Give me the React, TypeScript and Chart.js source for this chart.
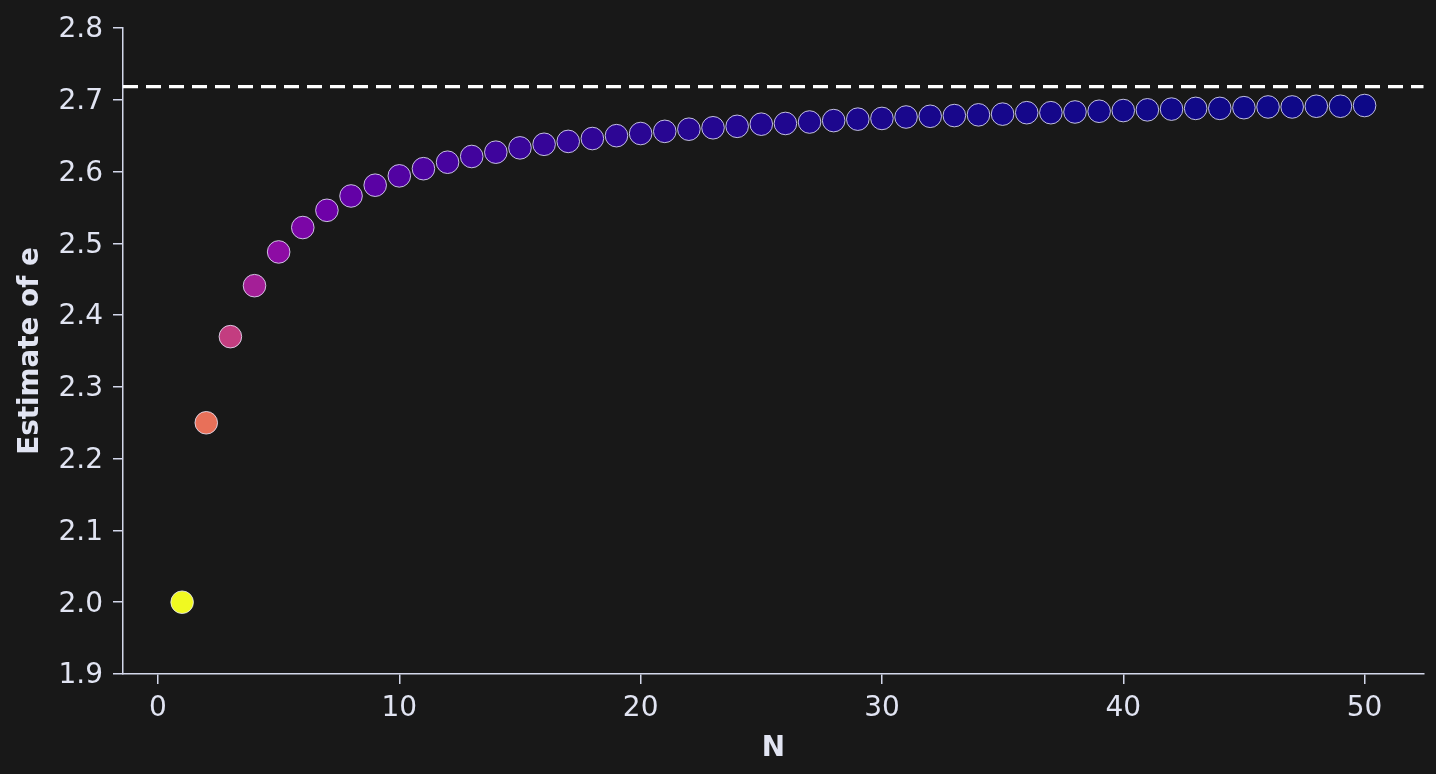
import React, { useEffect, useRef } from "react";
import { Chart, registerables } from "chart.js";

Chart.register(...registerables);

// ---- data ----
const N_VALUES = [
  1, 2, 3, 4, 5, 6, 7, 8, 9, 10, 11, 12, 13, 14, 15, 16, 17, 18, 19, 20, 21, 22, 23, 24, 25,
  26, 27, 28, 29, 30, 31, 32, 33, 34, 35, 36, 37, 38, 39, 40, 41, 42, 43, 44, 45, 46, 47, 48, 49, 50,
];
const ESTIMATES = [
  2.0, 2.25, 2.37, 2.441, 2.488, 2.522, 2.546, 2.566, 2.581, 2.594,
  2.604, 2.613, 2.621, 2.627, 2.633, 2.638, 2.642, 2.646, 2.65, 2.653,
  2.656, 2.659, 2.661, 2.663, 2.666, 2.667, 2.669, 2.671, 2.673, 2.674,
  2.676, 2.677, 2.678, 2.679, 2.68, 2.682, 2.682, 2.683, 2.684, 2.685,
  2.686, 2.687, 2.688, 2.688, 2.689, 2.69, 2.69, 2.691, 2.691, 2.692,
];
const E_REFERENCE = 2.71828;
const Y_TICKS = [1.9, 2.0, 2.1, 2.2, 2.3, 2.4, 2.5, 2.6, 2.7, 2.8];
const X_TICKS = [0, 10, 20, 30, 40, 50];
const X_LABEL = "N";
const Y_LABEL = "Estimate of e";

// ---- style ----
const BG = "#181818";
const TEXT = "#e1e4f2";
const AXIS = "#d3d7ea";
const FONT = "'DejaVu Sans', sans-serif";
const PLASMA = [
  "#0d0887", "#41049d", "#6a00a8", "#8f0da4", "#b12a90", "#cc4778",
  "#e16462", "#f2844b", "#fca636", "#fcce25", "#f0f921",
];

function hexToRgb(h: string) {
  return [1, 3, 5].map((i) => parseInt(h.slice(i, i + 2), 16));
}
function plasma(t: number) {
  const c = Math.max(0, Math.min(1, t)) * (PLASMA.length - 1);
  const i = Math.min(PLASMA.length - 2, Math.floor(c));
  const f = c - i;
  const a = hexToRgb(PLASMA[i]);
  const b = hexToRgb(PLASMA[i + 1]);
  const m = a.map((v, k) => Math.round(v + (b[k] - v) * f));
  return `rgb(${m[0]},${m[1]},${m[2]})`;
}

export default function App() {
  const ref = useRef<HTMLCanvasElement | null>(null);
  useEffect(() => {
    if (!ref.current) return;
    const errors = ESTIMATES.map((v) => E_REFERENCE - v);
    const eMin = Math.min(...errors);
    const eMax = Math.max(...errors);
    const colors = errors.map((e) => plasma((e - eMin) / (eMax - eMin)));
    const xMin = -1.45;
    const xMax = 52.45;
    const chart = new Chart(ref.current, {
      type: "scatter",
      data: {
        datasets: [
          {
            type: "line",
            data: [
              { x: xMin, y: E_REFERENCE },
              { x: xMax, y: E_REFERENCE },
            ],
            borderColor: "#ffffff",
            borderWidth: 3.2,
            borderDash: [15, 8],
            pointRadius: 0,
            fill: false,
          } as any,
          {
            data: N_VALUES.map((n, i) => ({ x: n, y: ESTIMATES[i] })),
            backgroundColor: colors,
            borderColor: "rgba(235,235,255,0.8)",
            borderWidth: 1,
            pointRadius: 11.3,
          },
        ],
      },
      options: {
        animation: false,
        responsive: false,
        layout: { padding: { top: 28, right: 11, left: 0, bottom: 0 } },
        plugins: { legend: { display: false }, tooltip: { enabled: false } },
        scales: {
          x: {
            type: "linear",
            min: xMin,
            max: xMax,
            afterBuildTicks: (s: any) => {
              s.ticks = X_TICKS.map((v) => ({ value: v }));
            },
            afterFit: (s: any) => {
              s.height = 100;
            },
            ticks: {
              color: TEXT,
              font: { family: FONT, size: 28 },
              padding: 8,
              maxRotation: 0,
              autoSkip: false,
              callback: (v: any) => String(v),
            },
            grid: { display: true, drawOnChartArea: false, drawTicks: true, tickLength: 10, color: AXIS, lineWidth: 1.5 },
            border: { display: true, color: AXIS, width: 1.5 },
            title: {
              display: true,
              text: X_LABEL,
              color: TEXT,
              font: { family: FONT, size: 27.8, weight: "bold" },
              padding: { top: 0, bottom: 9 },
            },
          },
          y: {
            type: "linear",
            min: 1.9,
            max: 2.8,
            afterBuildTicks: (s: any) => {
              s.ticks = Y_TICKS.map((v) => ({ value: v }));
            },
            afterFit: (s: any) => {
              s.width = 123;
            },
            ticks: {
              color: TEXT,
              font: { family: FONT, size: 28 },
              padding: 10,
              labelOffset: 2,
              autoSkip: false,
              callback: (v: any) => Number(v).toFixed(1),
            },
            grid: { display: true, drawOnChartArea: false, drawTicks: true, tickLength: 10, color: AXIS, lineWidth: 1.5 },
            border: { display: true, color: AXIS, width: 1.5 },
            title: {
              display: true,
              text: Y_LABEL,
              color: TEXT,
              font: { family: FONT, size: 27.8, weight: "bold" },
              padding: { top: 14, bottom: 0 },
            },
          },
        },
      },
    });
    return () => chart.destroy();
  }, []);
  return (
    <div style={{ position: "fixed", left: 0, top: 0, width: 1436, height: 774, background: BG }}>
      <canvas ref={ref} width={1436} height={774} style={{ display: "block" }} />
    </div>
  );
}
